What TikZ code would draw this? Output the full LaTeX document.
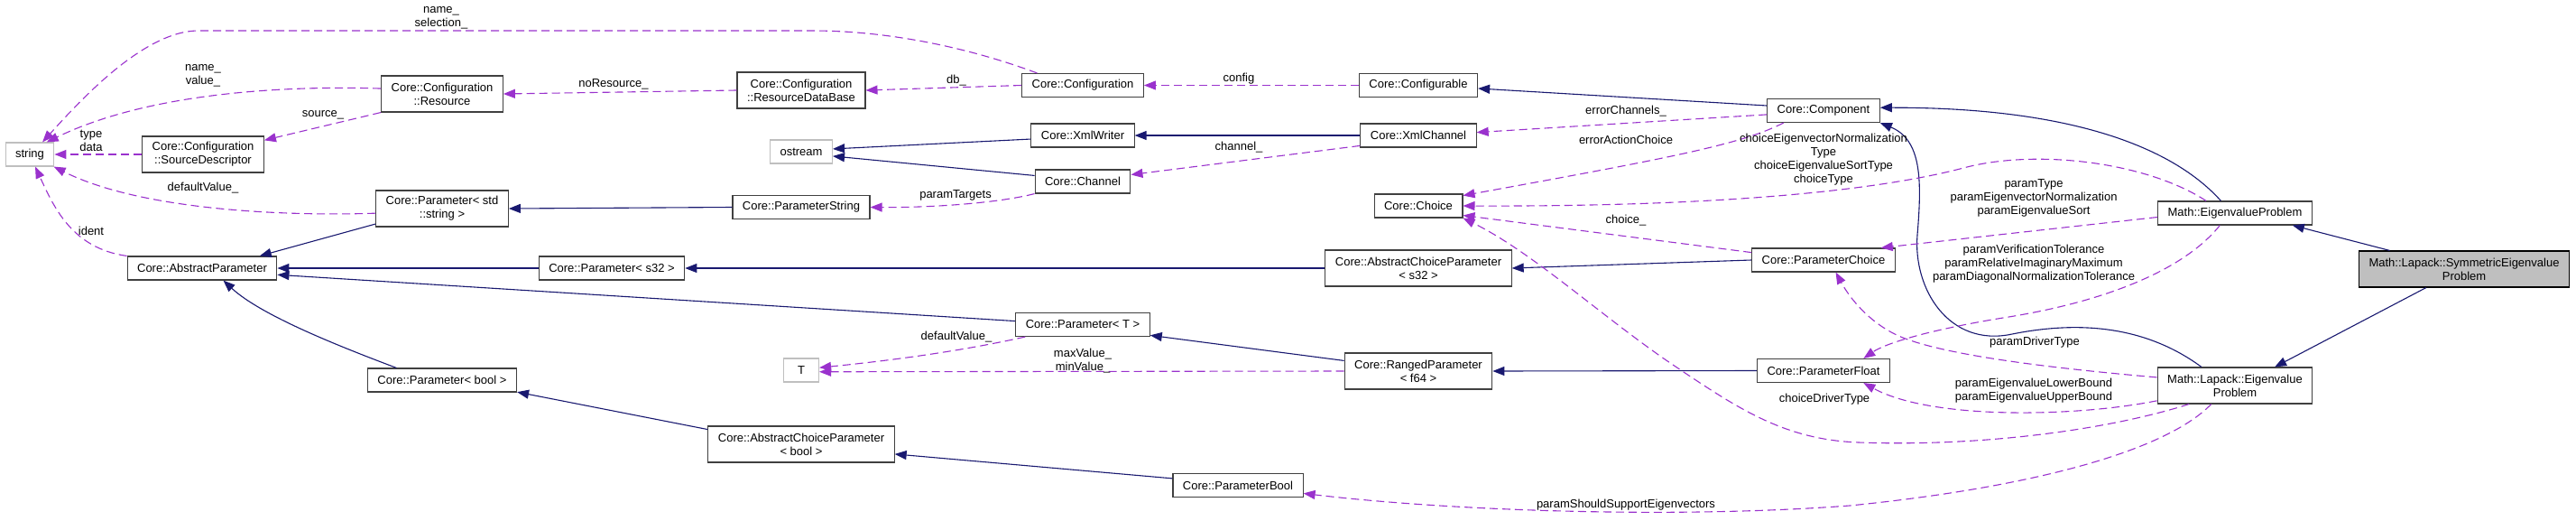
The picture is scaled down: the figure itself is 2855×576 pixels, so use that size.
\documentclass[tikz,border=0pt]{standalone}
\usepackage{fontspec}
\setmainfont{Liberation Sans}
\usetikzlibrary{arrows.meta}
\definecolor{inhblue}{HTML}{191970}
\definecolor{usepurple}{HTML}{9A32CD}
\definecolor{boxgray}{HTML}{BFBFBF}

\begin{document}
\begin{tikzpicture}[x=1pt, y=-1pt, >={Triangle[length=13pt,width=10pt]},
  font=\fontsize{13}{15}\selectfont,
  cls/.style={draw=black!75, line width=1.1pt, minimum height=26pt, inner xsep=11pt, inner ysep=2pt, align=center},
  two/.style={cls, minimum height=40pt},
  ext/.style={cls, draw=boxgray},
  lbl/.style={inner sep=0pt, align=center},
  inh/.style={->, draw=inhblue, line width=1.1pt},
  uses/.style={->, draw=usepurple, line width=1.1pt, dash pattern=on 9pt off 5pt}]
\useasboundingbox (0,0) rectangle (2855,576);
% classes
\node[ext] (string) at (33,171) {string};
\node[two] (res) at (490,104) {Core::Configuration\\::Resource};
\node[two] (srcdesc) at (225,171) {Core::Configuration\\::SourceDescriptor};
\node[two] (parstd) at (490,231) {Core::Parameter< std\\::string >};
\node[cls] (abspar) at (224,297) {Core::AbstractParameter};
\node[cls] (pars32) at (678,297) {Core::Parameter< s32 >};
\node[cls] (parbool) at (490,421) {Core::Parameter< bool >};
\node[two] (resdb) at (888,100) {Core::Configuration\\::ResourceDataBase};
\node[ext] (ostream) at (888,168) {ostream};
\node[cls] (parstring) at (888,229.5) {Core::ParameterString};
\node[ext, minimum width=39pt] (tval) at (888,410) {T};
\node[two] (acpbool) at (888,492) {Core::AbstractChoiceParameter\\< bool >};
\node[cls] (config) at (1200,94.5) {Core::Configuration};
\node[cls] (xmlwriter) at (1200,150) {Core::XmlWriter};
\node[cls] (channel) at (1200,201) {Core::Channel};
\node[cls] (part) at (1200,359.5) {Core::Parameter< T >};
\node[cls] (pbool) at (1372,537.5) {Core::ParameterBool};
\node[cls] (configurable) at (1572,94.5) {Core::Configurable};
\node[cls] (xmlchannel) at (1572,150) {Core::XmlChannel};
\node[cls] (choice) at (1572,228) {Core::Choice};
\node[two] (acps32) at (1572,297) {Core::AbstractChoiceParameter\\< s32 >};
\node[two] (ranged) at (1572,411) {Core::RangedParameter\\< f64 >};
\node[cls] (component) at (2021,122.5) {Core::Component};
\node[cls] (pchoice) at (2021,288) {Core::ParameterChoice};
\node[cls] (pfloat) at (2021,410.5) {Core::ParameterFloat};
\node[cls] (eigprob) at (2477,236) {Math::EigenvalueProblem};
\node[two] (lapeig) at (2477,427) {Math::Lapack::Eigenvalue\\Problem};
\node[two, fill=boxgray, draw=black] (symeig) at (2731,298) {Math::Lapack::SymmetricEigenvalue\\Problem};
% inheritance
\draw[inh] (parstd.193) -- (abspar.12);
\draw[inh] (pars32.west) -- (abspar.east);
\draw[inh] (part.177) -- (abspar.-5);
\draw[inh] (parbool.165) .. controls (380,385) and (290,350) .. (abspar.-30);
\draw[inh] (parstring.west) -- (parstd.east);
\draw[inh] (xmlwriter.184) -- (ostream.5);
\draw[inh] (channel.173) -- (ostream.-8);
\draw[inh] (xmlchannel.west) -- (xmlwriter.east);
\draw[inh] (component.175) -- (configurable.-3);
\draw[inh] (eigprob.139) .. controls (2410,165) and (2300,119) .. (component.3);
\draw[inh] (lapeig.151) .. controls (2370,355) and (2290,358) .. (2230,370)
  .. controls (2160,385) and (2120,320) .. (2125,260)
  .. controls (2130,200) and (2130,155) .. (component.south east);
\draw[inh] (symeig.166) -- (eigprob.-12);
\draw[inh] (symeig.206) -- (lapeig.25);
\draw[inh] (pchoice.west) -- (acps32.east);
\draw[inh] (acps32.west) -- (pars32.east);
\draw[inh] (pfloat.west) -- (ranged.east);
\draw[inh] (ranged.172) -- (part.-9);
\draw[inh] (acpbool.171) -- (parbool.-9);
\draw[inh] (pbool.174) -- (acpbool.-6);
% members
\draw[uses] (config.165) .. controls (1080,55) and (990,34) .. (900,34) -- (220,34)
  .. controls (160,34) and (90,110) .. (string.44);
\draw[uses] (res.175) .. controls (330,95) and (170,100) .. (string.36);
\draw[uses] (res.south west) -- (srcdesc.13);
\draw[uses] (srcdesc.west) -- (string.east);
\draw[uses] (parstd.184) .. controls (300,240) and (150,230) .. (string.-27);
\draw[uses] (abspar.north west) .. controls (80,275) and (60,230) .. (string.-66);
\draw[uses] (resdb.west) -- (res.east);
\draw[uses] (config.west) -- (resdb.east);
\draw[uses] (configurable.west) -- (config.east);
\draw[uses] (xmlchannel.190) -- (channel.8);
\draw[uses] (channel.south west) .. controls (1110,224) and (1040,230) .. (parstring.east);
\draw[uses] (component.184) -- (xmlchannel.3);
\draw[uses] (component.197) .. controls (1930,160) and (1850,175) .. (choice.13);
\draw[uses] (eigprob.157) .. controls (2380,180) and (2260,165) .. (2180,185)
  .. controls (2080,212) and (1900,229) .. (choice.east);
\draw[uses] (pchoice.174) -- (choice.-12);
\draw[uses] (lapeig.202) .. controls (2340,475) and (2200,495) .. (2060,490)
  .. controls (1980,487) and (1930,455) .. (1860,408)
  .. controls (1780,355) and (1700,280) .. (choice.south east);
\draw[uses] (ranged.west) -- (tval.-5);
\draw[uses] (part.192) .. controls (1060,390) and (980,400) .. (tval.8);
\draw[uses] (eigprob.183) -- (pchoice.12);
\draw[uses] (eigprob.219) .. controls (2420,300) and (2330,335) .. (2220,352)
  .. controls (2140,365) and (2090,380) .. (pfloat.17);
\draw[uses] (lapeig.174) .. controls (2300,410) and (2150,395) .. (2100,370)
  .. controls (2070,355) and (2050,330) .. (pchoice.-45);
\draw[uses] (lapeig.191) .. controls (2300,462) and (2140,465) .. (pfloat.-17);
\draw[uses] (lapeig.218) .. controls (2400,500) and (2250,540) .. (2050,560)
  .. controls (1850,575) and (1600,565) .. (pbool.-7);
% member names
\node[lbl] (lnamesel) at (489,19.5) {name\_\\selection\_};
\node[lbl] (lnameval) at (225,83.5) {name\_\\value\_};
\node[lbl] (lsource) at (358,127) {source\_};
\node[lbl] (ltype) at (101,155.5) {type\\data};
\node[lbl] (ldefstr) at (225,208) {defaultValue\_};
\node[lbl] (lident) at (101,256) {ident};
\node[lbl] (lnores) at (680,93) {noResource\_};
\node[lbl] (ldb) at (1060,89) {db\_};
\node[lbl] (lconfig) at (1373,87) {config};
\node[lbl] (lchannel) at (1373,163) {channel\_};
\node[lbl] (ltargets) at (1059,216) {paramTargets};
\node[lbl] (lerrch) at (1802,123) {errorChannels\_};
\node[lbl] (lerract) at (1802,155) {errorActionChoice};
\node[lbl] (lchoices) at (2021,176.5) {choiceEigenvectorNormalization\\Type\\choiceEigenvalueSortType\\choiceType};
\node[lbl] (lchoice) at (1802,244) {choice\_};
\node[lbl] (ldeft) at (1060,373) {defaultValue\_};
\node[lbl] (lminmax) at (1200,399.5) {maxValue\_\\minValue\_};
\node[lbl] (lparams) at (2254,219) {paramType\\paramEigenvectorNormalization\\paramEigenvalueSort};
\node[lbl] (lverif) at (2254,292) {paramVerificationTolerance\\paramRelativeImaginaryMaximum\\paramDiagonalNormalizationTolerance};
\node[lbl] (ldriver) at (2255,379) {paramDriverType};
\node[lbl] (lbounds) at (2254,432.5) {paramEigenvalueLowerBound\\paramEigenvalueUpperBound};
\node[lbl] (lcdriver) at (2022,442) {choiceDriverType};
\node[lbl] (lshould) at (1802,559) {paramShouldSupportEigenvectors};
\end{tikzpicture}
\end{document}
